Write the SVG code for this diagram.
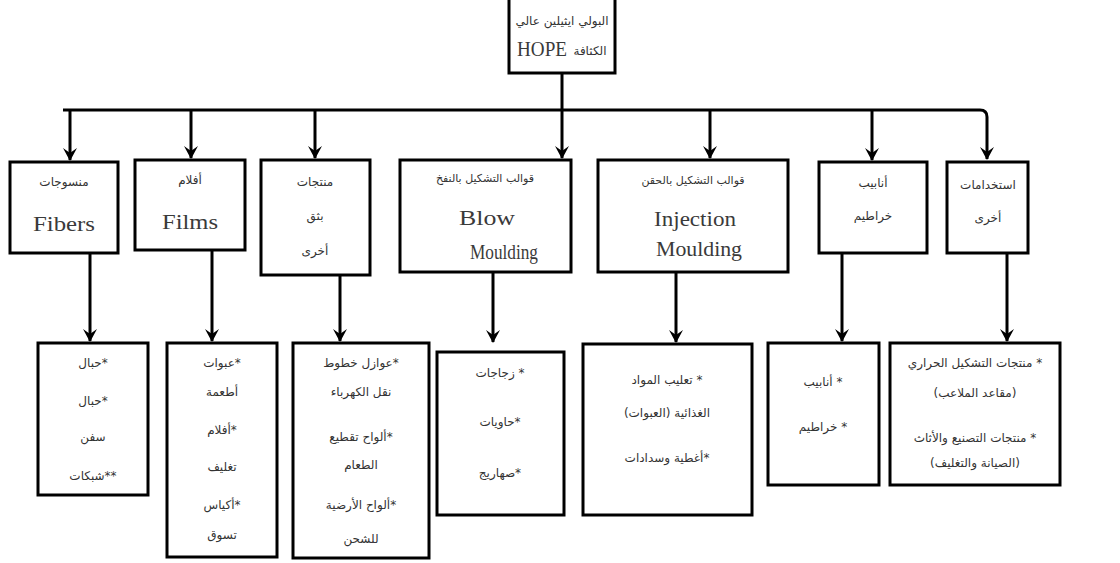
<svg xmlns="http://www.w3.org/2000/svg" width="1120" height="563" viewBox="0 0 1120 563">
<style>
.box{fill:#fff;stroke:#000;stroke-width:3}
.ln{fill:none;stroke:#000;stroke-width:3}
.ar{font-family:"DejaVu Sans",sans-serif;font-size:12px;fill:#333;direction:rtl;text-anchor:middle}
.sm{font-size:11px}
.en{font-family:"Liberation Serif","DejaVu Serif",serif;font-size:20px;fill:#3a3a3a;text-anchor:middle}
</style>
<defs>
<marker id="ah" markerUnits="userSpaceOnUse" markerWidth="14" markerHeight="16" refX="12" refY="8" orient="auto" viewBox="0 0 14 16">
<path d="M0,1 L5,8 L0,15 L13,8 Z" fill="#000"/>
</marker>
</defs>
<rect width="1120" height="563" fill="#fff"/>
<g id="connectors">
<path class="ln" d="M63,110 H980 Q987,110 987,117 V159" marker-end="url(#ah)"/>
<path class="ln" d="M562,73 V158" marker-end="url(#ah)"/>
<path class="ln" d="M70,110 V160" marker-end="url(#ah)"/>
<path class="ln" d="M191,110 V158" marker-end="url(#ah)"/>
<path class="ln" d="M315,110 V158" marker-end="url(#ah)"/>
<path class="ln" d="M710,110 V158" marker-end="url(#ah)"/>
<path class="ln" d="M872,110 V160" marker-end="url(#ah)"/>
<path class="ln" d="M90,253 V341" marker-end="url(#ah)"/>
<path class="ln" d="M212,250 V341" marker-end="url(#ah)"/>
<path class="ln" d="M340,275 V341" marker-end="url(#ah)"/>
<path class="ln" d="M493,272 V342" marker-end="url(#ah)"/>
<path class="ln" d="M676,272 V342" marker-end="url(#ah)"/>
<path class="ln" d="M842,253 V341" marker-end="url(#ah)"/>
<path class="ln" d="M1007,253 V341" marker-end="url(#ah)"/>
</g>
<g id="root">
<rect class="box" x="509" y="-3" width="106" height="76"/>
<text class="ar" x="562" y="25">البولي ايثيلين عالي</text>
<text class="en" x="542" y="56" textLength="50" lengthAdjust="spacingAndGlyphs">HOPE</text>
<text class="ar" x="590" y="55">الكثافة</text>
</g>
<g id="n-fibers">
<rect class="box" x="10" y="162" width="108" height="91"/>
<text class="ar" x="64" y="186">منسوجات</text>
<text class="en" x="64" y="231" textLength="62" lengthAdjust="spacingAndGlyphs">Fibers</text>
</g>
<g id="n-films">
<rect class="box" x="135" y="160" width="110" height="90"/>
<text class="ar" x="190" y="184">أفلام</text>
<text class="en" x="190" y="229" textLength="56" lengthAdjust="spacingAndGlyphs">Films</text>
</g>
<g id="n-extrusion">
<rect class="box" x="261" y="160" width="109" height="115"/>
<text class="ar" x="315" y="186">منتجات</text>
<text class="ar" x="315" y="220">بثق</text>
<text class="ar" x="315" y="255">أخرى</text>
</g>
<g id="n-blow">
<rect class="box" x="400" y="160" width="171" height="112"/>
<text class="ar sm" x="485" y="182">قوالب التشكيل بالنفخ</text>
<text class="en" x="487" y="225" textLength="56" lengthAdjust="spacingAndGlyphs">Blow</text>
<text class="en" x="504" y="259" textLength="68" lengthAdjust="spacingAndGlyphs">Moulding</text>
</g>
<g id="n-injection">
<rect class="box" x="598" y="160" width="190" height="112"/>
<text class="ar sm" x="693" y="184">قوالب التشكيل بالحقن</text>
<text class="en" x="695" y="226" textLength="82" lengthAdjust="spacingAndGlyphs">Injection</text>
<text class="en" x="699" y="256" textLength="86" lengthAdjust="spacingAndGlyphs">Moulding</text>
</g>
<g id="n-pipes">
<rect class="box" x="819" y="162" width="108" height="91"/>
<text class="ar" x="873" y="187">أنابيب</text>
<text class="ar" x="873" y="220">خراطيم</text>
</g>
<g id="n-other">
<rect class="box" x="947" y="162" width="81" height="91"/>
<text class="ar" x="988" y="189">استخدامات</text>
<text class="ar" x="988" y="222">أخرى</text>
</g>
<g id="l-fibers">
<rect class="box" x="38" y="343" width="110" height="152"/>
<text class="ar" x="93" y="367">*حبال</text>
<text class="ar" x="93" y="405">*حبال</text>
<text class="ar" x="93" y="441">سفن</text>
<text class="ar" x="93" y="480">**شبكات</text>
</g>
<g id="l-films">
<rect class="box" x="167" y="343" width="110" height="214"/>
<text class="ar" x="222" y="367">*عبوات</text>
<text class="ar" x="222" y="396">أطعمة</text>
<text class="ar" x="222" y="434">*أفلام</text>
<text class="ar" x="222" y="471">تغليف</text>
<text class="ar" x="222" y="509">*أكياس</text>
<text class="ar" x="222" y="539">تسوق</text>
</g>
<g id="l-extrusion">
<rect class="box" x="293" y="343" width="136" height="215"/>
<text class="ar" x="361" y="367">*عوازل خطوط</text>
<text class="ar" x="361" y="396">نقل الكهرباء</text>
<text class="ar" x="361" y="441">*ألواح تقطيع</text>
<text class="ar" x="361" y="469">الطعام</text>
<text class="ar" x="361" y="509">*ألواح الأرضية</text>
<text class="ar" x="361" y="543">للشحن</text>
</g>
<g id="l-blow">
<rect class="box" x="437" y="352" width="127" height="163"/>
<text class="ar" x="500" y="377">* زجاجات</text>
<text class="ar" x="500" y="426">*حاويات</text>
<text class="ar" x="500" y="477">*صهاريج</text>
</g>
<g id="l-injection">
<rect class="box" x="583" y="344" width="169" height="171"/>
<text class="ar" x="667" y="384">* تعليب المواد</text>
<text class="ar" x="667" y="417">الغذائية (العبوات)</text>
<text class="ar" x="667" y="462">*أغطية وسدادات</text>
</g>
<g id="l-pipes">
<rect class="box" x="768" y="343" width="111" height="142"/>
<text class="ar" x="823" y="386">* أنابيب</text>
<text class="ar" x="823" y="431">* خراطيم</text>
</g>
<g id="l-other">
<rect class="box" x="890" y="343" width="170" height="142"/>
<text class="ar" x="975" y="367">* منتجات التشكيل الحراري</text>
<text class="ar" x="975" y="397">(مقاعد الملاعب)</text>
<text class="ar" x="975" y="442">* منتجات التصنيع والأثاث</text>
<text class="ar" x="975" y="467">(الصيانة والتغليف)</text>
</g>
</svg>
